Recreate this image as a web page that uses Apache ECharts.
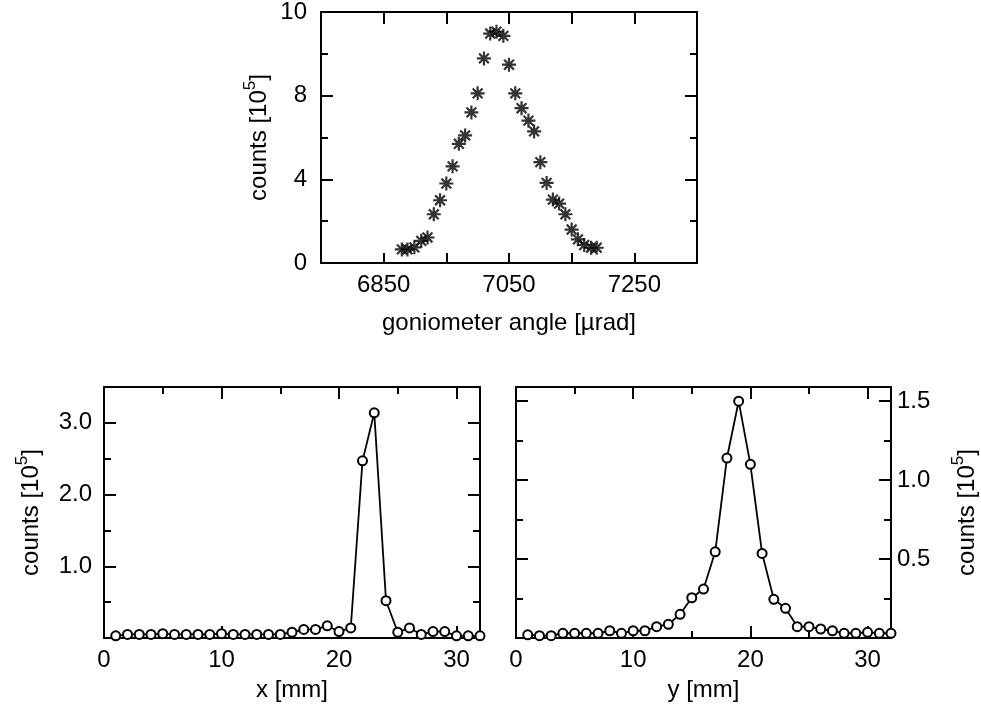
<!DOCTYPE html>
<html>
<head>
<meta charset="utf-8">
<script src="https://cdn.jsdelivr.net/npm/echarts@6/dist/echarts.min.js"></script>
<style>
  html, body { margin: 0; padding: 0; background: #fff; }
  #chart { width: 981px; height: 706px; }
</style>
</head>
<body>
<div id="chart"></div>
<script>
var chart = echarts.init(document.getElementById('chart'));

// goniometer scan (top)
var angleX = [6879, 6888, 6899, 6910, 6920, 6930, 6940, 6950, 6960, 6970, 6980, 6990, 7000, 7010, 7020, 7030,
  7041, 7050, 7060, 7070, 7081, 7090, 7100, 7110, 7120, 7130, 7140, 7150, 7160, 7170, 7181, 7190];
var angleCounts = [0.65, 0.65, 0.75, 1.06, 1.22, 2.33, 3.0, 3.8, 4.62, 5.7, 6.1, 7.2, 8.11, 9.78, 10.97, 11.06,
  10.86, 9.48, 8.11, 7.4, 6.81, 6.29, 4.82, 3.83, 3.03, 2.84, 2.33, 1.6, 1.13, 0.86, 0.73, 0.73];
var angleTicks = [6850, 6950, 7050, 7150, 7250];
var angleLabels = [6850, 7050, 7250];

// position scans (bottom)
var posMm = [1, 2, 3, 4, 5, 6, 7, 8, 9, 10, 11, 12, 13, 14, 15, 16,
  17, 18, 19, 20, 21, 22, 23, 24, 25, 26, 27, 28, 29, 30, 31, 32];
var xCounts = [0.03, 0.05, 0.05, 0.05, 0.06, 0.05, 0.05, 0.05, 0.05, 0.06, 0.05, 0.05, 0.05, 0.05, 0.05, 0.08,
  0.12, 0.12, 0.17, 0.09, 0.14, 2.47, 3.14, 0.52, 0.08, 0.14, 0.05, 0.09, 0.09, 0.03, 0.03, 0.03];
var yCounts = [0.02, 0.015, 0.015, 0.03, 0.03, 0.03, 0.03, 0.046, 0.03, 0.046, 0.046, 0.072, 0.087, 0.15, 0.255, 0.31,
  0.546, 1.14, 1.5, 1.10, 0.536, 0.245, 0.188, 0.072, 0.072, 0.057, 0.046, 0.03, 0.03, 0.036, 0.03, 0.03];

var FONT = 'Liberation Sans';
var lineStyle = { color: '#000', width: 2 };
var nameStyle = {
  fontFamily: FONT, fontSize: 24, color: '#000',
  rich: {
    n: { fontFamily: FONT, fontSize: 24, color: '#000', verticalAlign: 'bottom', lineHeight: 24 },
    sup: { fontFamily: FONT, fontSize: 17, color: '#000', verticalAlign: 'bottom', lineHeight: 17, padding: [0, 0, 12, 0] }
  }
};
var countsName = '{n|counts [10}{sup|5}{n|]}';
var labelStyle = { fontFamily: FONT, fontSize: 24, color: '#000' };

function pairs(xs, ys) {
  return xs.map(function (x, i) { return [x, ys[i]]; });
}

// frame axis helper
function axis(grid, pos, opts) {
  var a = {
    type: 'value',
    gridIndex: grid,
    position: pos,
    splitLine: { show: false },
    axisLine: { show: true, onZero: false, lineStyle: lineStyle },
    axisTick: { show: true, inside: true, length: 12, lineStyle: lineStyle },
    minorTick: { show: true, splitNumber: 2, length: 7, lineStyle: lineStyle },
    axisLabel: { show: false }
  };
  return Object.assign(a, opts);
}

var xFmt = function (v) { return v % 10 === 0 ? String(v) : ''; };

var option = {
  animation: false,
  backgroundColor: '#fff',
  grid: [
    { left: 321, right: 284, top: 11, bottom: 443 },
    { left: 104, right: 501, top: 387, bottom: 68 },
    { left: 516, right: 90, top: 387, bottom: 68 }
  ],
  xAxis: [
    axis(0, 'bottom', {
      min: 6750, max: 7350,
      minorTick: { show: false },
      axisTick: { show: true, inside: true, length: 10, lineStyle: lineStyle, customValues: angleTicks },
      axisLabel: Object.assign({
        show: true, margin: 10, customValues: angleLabels,
        formatter: function (v) { return String(v); }
      }, labelStyle),
      name: 'goniometer angle [µrad]', nameLocation: 'middle', nameGap: 48, nameTextStyle: nameStyle
    }),
    axis(0, 'top', {
      min: 6750, max: 7350,
      minorTick: { show: false },
      axisTick: { show: true, inside: true, length: 12, lineStyle: lineStyle, customValues: angleTicks }
    }),
    axis(1, 'bottom', {
      min: 0, max: 32, interval: 10,
      axisLabel: Object.assign({ show: true, margin: 10, formatter: xFmt }, labelStyle),
      name: 'x [mm]', nameLocation: 'middle', nameGap: 40, nameTextStyle: nameStyle
    }),
    axis(1, 'top', { min: 0, max: 32, interval: 10 }),
    axis(2, 'bottom', {
      min: 0, max: 32, interval: 10,
      axisLabel: Object.assign({ show: true, margin: 10, formatter: xFmt }, labelStyle),
      name: 'y [mm]', nameLocation: 'middle', nameGap: 40, nameTextStyle: nameStyle
    }),
    axis(2, 'top', { min: 0, max: 32, interval: 10 })
  ],
  yAxis: [
    axis(0, 'left', {
      min: 0, max: 12, interval: 4,
      axisLabel: Object.assign({
        show: true, margin: 14,
        formatter: function (v) { return v === 12 ? '10' : String(v); }
      }, labelStyle),
      name: countsName, nameLocation: 'middle', nameGap: 50, nameTextStyle: nameStyle
    }),
    axis(0, 'right', { min: 0, max: 12, interval: 4 }),
    axis(1, 'left', {
      min: 0, max: 3.5, interval: 1,
      axisLabel: Object.assign({
        show: true, margin: 12,
        formatter: function (v) { return (v > 0 && v % 1 === 0) ? v.toFixed(1) : ''; }
      }, labelStyle),
      name: countsName, nameLocation: 'middle', nameGap: 61, nameTextStyle: nameStyle
    }),
    axis(1, 'right', { min: 0, max: 3.5, interval: 1 }),
    axis(2, 'left', { min: 0, max: 1.59, interval: 0.5 }),
    axis(2, 'right', {
      min: 0, max: 1.59, interval: 0.5,
      axisLabel: Object.assign({
        show: true, margin: 6,
        formatter: function (v) {
          var r = Math.round(v * 100) / 100;
          return (r > 0 && Math.abs(r * 2 - Math.round(r * 2)) < 1e-6) ? r.toFixed(1) : '';
        }
      }, labelStyle),
      name: countsName, nameLocation: 'middle', nameGap: 64, nameTextStyle: nameStyle
    })
  ],
  series: [
    {
      name: 'goniometer',
      type: 'scatter',
      xAxisIndex: 0, yAxisIndex: 0,
      symbol: 'path://M5,0L5,10M0,5L10,5M1.5,1.5L8.5,8.5M1.5,8.5L8.5,1.5',
      symbolSize: 14,
      itemStyle: { color: 'rgba(0,0,0,0)', borderColor: '#000', borderWidth: 2.2 },
      data: pairs(angleX, angleCounts)
    },
    {
      name: 'x scan',
      type: 'line',
      xAxisIndex: 2, yAxisIndex: 2,
      symbol: 'emptyCircle', symbolSize: 9,
      clip: false,
      lineStyle: { color: '#000', width: 1.8 },
      itemStyle: { color: '#000', borderColor: '#000', borderWidth: 1.8 },
      data: pairs(posMm, xCounts)
    },
    {
      name: 'y scan',
      type: 'line',
      xAxisIndex: 4, yAxisIndex: 5,
      symbol: 'emptyCircle', symbolSize: 9,
      clip: false,
      lineStyle: { color: '#000', width: 1.8 },
      itemStyle: { color: '#000', borderColor: '#000', borderWidth: 1.8 },
      data: pairs(posMm, yCounts)
    }
  ]
};

chart.setOption(option);
</script>
</body>
</html>
